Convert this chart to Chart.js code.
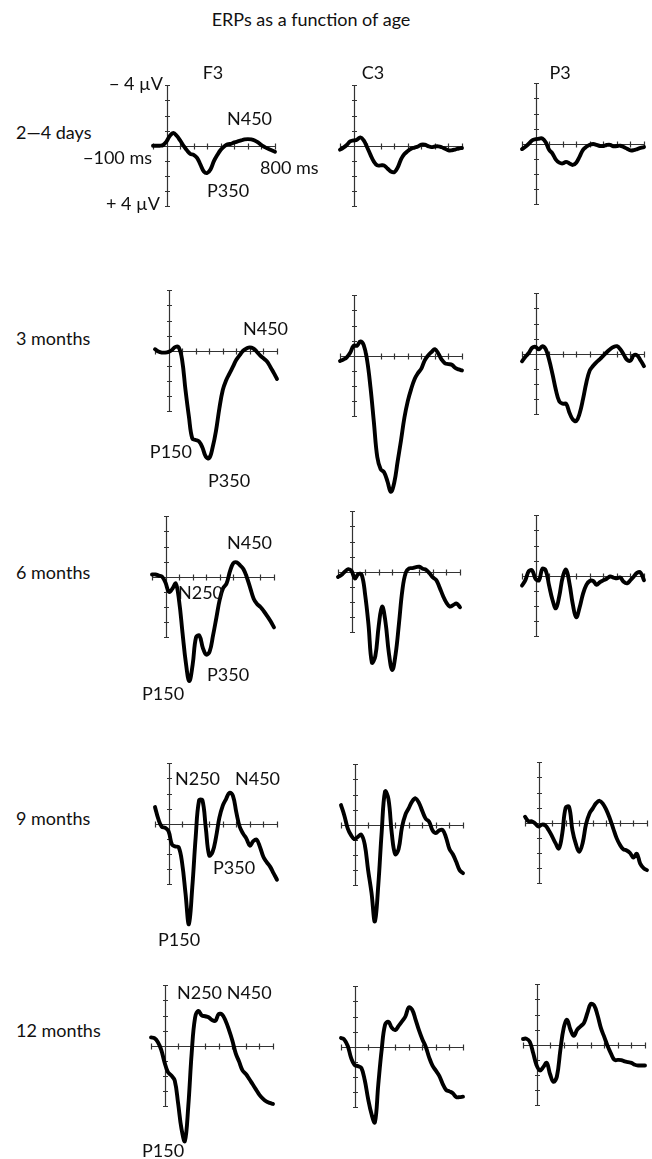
<!DOCTYPE html>
<html>
<head>
<meta charset="utf-8">
<script src="https://cdn.jsdelivr.net/npm/chart.js@4.4.1/dist/chart.umd.min.js"></script>
<style>
  html, body { margin: 0; padding: 0; background: #fff; }
  #page { position: relative; width: 652px; height: 1159px; overflow: hidden;
          font-family: Lato, "Open Sans", sans-serif; color: #111; }
  #page canvas { position: absolute; }
  .lbl { position: absolute; font-size: 18px; line-height: 1; white-space: nowrap;
         transform: translateY(-50%); }
  .lbl.r { transform: translate(-100%, -50%); }
  .lbl.c { transform: translate(-50%, -50%); }
</style>
</head>
<body>
<div id="page"></div>
<script>
// time points (ms) shared by every waveform
var times = [-100, -75, -50, -25, 0, 25, 50, 75, 100, 125, 150, 175, 200, 225, 250, 275, 300, 325,
             350, 375, 400, 425, 450, 475, 500, 525, 550, 575, 600, 625, 650, 675, 700, 725, 750, 775, 800];

// axis ticks
var xTicks = [-100, 0, 100, 200, 300, 400, 500, 600, 700, 800];
var yTicks = [-4, -3, -2, -1, 0, 1, 2, 3, 4];

var ages = ['2—4 days', '3 months', '6 months', '9 months', '12 months'];
var sites = ['F3', 'C3', 'P3'];

// amplitudes in µV (negative up)
var days_F3 = [0, 0, 0, -0.05, -0.29, -0.66, -0.84, -0.66, -0.35, 0, 0.3, 0.53, 0.6, 0.8, 1.25, 1.7, 1.8, 1.55, 1.0, 0.6, 0.26, 0.05, -0.1, -0.13, -0.22, -0.29, -0.35, -0.42, -0.44, -0.42, -0.35, -0.22, -0.04, 0.09, 0.2, 0.3, 0.4];
var days_C3 = [0.26, 0.13, -0.05, -0.29, -0.35, -0.4, -0.55, -0.35, 0.1, 0.6, 1.05, 1.3, 1.3, 1.3, 1.5, 1.7, 1.75, 1.45, 0.9, 0.55, 0.35, 0.2, 0.12, 0.05, -0.07, -0.07, 0.02, 0.09, 0.05, 0.04, 0.1, 0.2, 0.3, 0.3, 0.25, 0.18, 0.15];
var days_P3 = [0.35, 0.2, 0, -0.22, -0.3, -0.33, -0.35, -0.1, 0.4, 0.65, 1.05, 1.25, 1.3, 1.2, 1.3, 1.4, 1.25, 0.85, 0.4, 0.2, 0.07, 0.02, 0.07, 0.15, 0.15, 0.08, 0.07, 0.17, 0.15, 0.13, 0.22, 0.33, 0.44, 0.42, 0.35, 0.28, 0.22];

var m3_F3 = [-0.1, 0.05, 0.12, 0.12, 0.07, -0.05, -0.25, -0.22, 0.6, 2.6, 4.35, 5.8, 5.9, 6.0, 6.4, 7.0, 7.1, 6.4, 5.3, 3.8, 2.6, 1.95, 1.5, 1.05, 0.6, 0.29, 0, -0.15, -0.22, -0.15, 0.05, 0.3, 0.5, 0.7, 1.05, 1.45, 1.87];
var m3_C3 = [0.35, 0.25, 0.1, -0.2, -0.66, -0.66, -0.95, -0.7, 0.3, 2.1, 4.4, 6.7, 7.5, 7.7, 8.3, 9.0, 8.4, 7.0, 5.6, 4.1, 3.0, 2.2, 1.55, 1.15, 0.85, 0.3, -0.02, -0.25, -0.44, -0.15, 0.25, 0.5, 0.55, 0.6, 0.8, 0.9, 0.97];
var m3_P3 = [0.5, 0.2, -0.05, -0.4, -0.46, -0.29, -0.5, -0.3, 0.4, 1.35, 2.4, 3.15, 3.3, 3.3, 3.9, 4.35, 4.45, 3.95, 3.0, 1.9, 1.1, 0.8, 0.55, 0.35, 0.12, -0.1, -0.3, -0.45, -0.5, -0.3, 0.05, 0.4, 0.45, 0.1, 0.12, 0.45, 0.82];

var m6_F3 = [-0.15, -0.15, -0.08, 0, 0.4, 1.0, 0.8, 0.45, 1.6, 3.7, 5.7, 6.9, 5.8, 4.0, 3.9, 4.7, 5.15, 4.95, 3.9, 2.7, 1.5, 0.75, 0.45, -0.35, -0.9, -0.95, -0.75, -0.5, 0.05, 0.75, 1.45, 1.8, 2.0, 2.28, 2.6, 2.95, 3.35];
var m6_C3 = [0.35, 0.22, 0, -0.17, -0.05, 0.45, 0.15, 0.2, 1.5, 3.5, 6.0, 5.6, 3.6, 2.3, 3.3, 5.35, 6.5, 5.45, 3.4, 1.2, 0.05, -0.22, -0.24, -0.3, -0.33, -0.2, -0.13, 0.1, 0.38, 0.55, 1.05, 1.6, 2.05, 2.3, 2.2, 2.1, 2.35];
var m6_P3 = [0.65, 0.29, -0.3, -0.35, 0.2, 0.3, -0.45, -0.35, 0.65, 1.6, 2.15, 1.35, 0.1, -0.4, 0.5, 1.9, 2.75, 2.1, 1.2, 0.6, 0.35, 0.35, 0.6, 0.42, 0.3, 0.2, 0.05, 0.12, 0.17, 0.12, 0.4, 0.5, 0.29, 0.05, -0.2, -0.2, 0.3];

var m9_F3 = [-1.1, -0.3, 0.2, 0.27, 0.5, 1.37, 1.5, 1.55, 2.6, 4.6, 6.65, 4.2, 0.9, -1.55, -1.55, 0.3, 2.1, 1.85, 0.9, -0.4, -1.2, -1.65, -2.05, -1.85, -0.75, 0.2, 0.65, 1.0, 1.45, 1.15, 1.05, 1.55, 2.2, 2.55, 2.85, 3.28, 3.7];
var m9_C3 = [-1.3, -0.6, 0.25, 0.7, 0.95, 0.8, 0.66, 1.3, 3.0, 4.5, 6.4, 4.0, 0.5, -2.2, -1.7, 0.6, 1.95, 1.6, 0.15, -0.66, -1.1, -1.55, -1.75, -1.45, -0.9, -0.4, -0.2, 0.36, 0.55, 0.37, 0.35, 0.85, 1.6, 1.95, 2.45, 3.0, 3.2];
var m9_P3 = [-0.4, -0.1, -0.1, 0.05, 0.25, 0.12, 0.18, 0.5, 0.9, 1.35, 1.7, 0.7, -1.0, -1.05, 0.5, 1.4, 1.92, 1.35, 0.1, -0.6, -0.95, -1.3, -1.45, -1.25, -0.85, -0.3, 0.35, 1.0, 1.45, 1.75, 1.83, 2.0, 2.3, 2.05, 2.7, 3.0, 3.13];

var m12_F3 = [-0.55, -0.5, -0.25, 0.25, 1.1, 1.75, 1.97, 2.3, 3.8, 5.5, 6.3, 4.0, 0.5, -1.85, -2.3, -2.0, -1.95, -1.88, -1.7, -1.65, -2.1, -2.05, -1.65, -1.05, -0.35, 0.5, 1.05, 1.63, 1.87, 2.2, 2.55, 2.9, 3.25, 3.5, 3.68, 3.78, 3.85];
var m12_C3 = [-0.58, -0.47, -0.05, 0.75, 1.2, 1.28, 1.4, 2.2, 3.45, 4.45, 5.0, 2.5, 0.2, -1.45, -1.65, -1.25, -1.1, -1.38, -1.68, -2.0, -2.6, -2.45, -1.8, -1.1, -0.5, 0, 0.7, 1.25, 1.58, 1.93, 2.45, 2.85, 2.95, 3.08, 3.33, 3.33, 3.3];
var m12_P3 = [-0.38, -0.4, -0.2, 0.55, 1.35, 1.7, 1.47, 1.2, 1.95, 2.45, 2.1, 0.4, -1.1, -1.65, -1.0, -0.6, -1.0, -1.22, -1.45, -2.1, -2.7, -2.6, -1.95, -1.1, -0.5, 0.1, 0.6, 1.0, 1.0, 1.02, 1.1, 1.15, 1.2, 1.32, 1.37, 1.37, 1.37];

var waves = [
  [days_F3, days_C3, days_P3],
  [m3_F3, m3_C3, m3_P3],
  [m6_F3, m6_C3, m6_P3],
  [m9_F3, m9_C3, m9_P3],
  [m12_F3, m12_C3, m12_P3]
];

// page position of each panel: [x of -100 ms, y of 0 µV]
var origins = [
  [[153, 146], [340, 146], [522, 144]],
  [[155, 351], [340, 356], [522, 354]],
  [[152, 577], [338, 572], [522, 576]],
  [[155, 824], [341, 825], [525, 823]],
  [[151, 1046], [341, 1047], [523, 1045]]
];

var Y_MIN = -6, Y_MAX = 10;
var PX_W = 122, PX_PER_UV = 15.125, PAD = 10;

var page = document.getElementById('page');

function addLabel(text, x, y, cls) {
  var d = document.createElement('div');
  d.className = 'lbl' + (cls ? ' ' + cls : '');
  d.textContent = text;
  d.style.left = x + 'px';
  d.style.top = y + 'px';
  page.appendChild(d);
}

// axes drawn from the chart's own scales
var erpAxes = {
  id: 'erpAxes',
  beforeDatasetsDraw: function (chart) {
    var c = chart.ctx, xs = chart.scales.x, ys = chart.scales.y;
    var x0 = Math.round(xs.getPixelForValue(0)) + 0.5;
    var y0 = Math.round(ys.getPixelForValue(0)) + 0.5;
    c.save();
    c.strokeStyle = '#333';
    c.lineWidth = 1.2;
    c.beginPath();
    c.moveTo(xs.getPixelForValue(xTicks[0]), y0);
    c.lineTo(xs.getPixelForValue(xTicks[xTicks.length - 1]), y0);
    c.moveTo(x0, ys.getPixelForValue(yTicks[0]));
    c.lineTo(x0, ys.getPixelForValue(yTicks[yTicks.length - 1]));
    xTicks.forEach(function (t) {
      var px = Math.round(xs.getPixelForValue(t)) + 0.5;
      c.moveTo(px, y0 - 3);
      c.lineTo(px, y0 + 3);
    });
    yTicks.forEach(function (v) {
      var py = Math.round(ys.getPixelForValue(v)) + 0.5;
      c.moveTo(x0 - 2.5, py);
      c.lineTo(x0 + 2.5, py);
    });
    c.stroke();
    c.restore();
  }
};

for (var r = 0; r < waves.length; r++) {
  for (var s = 0; s < 3; s++) {
    var vals = waves[r][s];
    var o = origins[r][s];
    var cv = document.createElement('canvas');
    cv.width = PX_W + 2 * PAD;
    cv.height = Math.round((Y_MAX - Y_MIN) * PX_PER_UV) + 2 * PAD;
    cv.style.left = (o[0] - PAD) + 'px';
    cv.style.top = Math.round(o[1] + Y_MIN * PX_PER_UV - PAD) + 'px';
    page.appendChild(cv);

    new Chart(cv.getContext('2d'), {
      type: 'line',
      data: {
        datasets: [{
          data: times.map(function (t, i) { return { x: t, y: vals[i] }; }),
          borderColor: '#000',
          borderWidth: 3.9,
          borderCapStyle: 'round',
          borderJoinStyle: 'round',
          pointRadius: 0,
          tension: 0.4,
          fill: false,
          clip: false
        }]
      },
      options: {
        responsive: false,
        animation: false,
        events: [],
        layout: { padding: PAD },
        plugins: { legend: { display: false }, tooltip: { enabled: false } },
        scales: {
          x: { type: 'linear', min: -100, max: 800, display: false },
          y: { type: 'linear', min: Y_MIN, max: Y_MAX, reverse: true, display: false }
        }
      },
      plugins: [erpAxes]
    });
  }
}

// titles and row names
addLabel('ERPs as a function of age', 311, 19, 'c');
addLabel(sites[0], 213, 72, 'c');
addLabel(sites[1], 373, 72, 'c');
addLabel(sites[2], 560, 72, 'c');
addLabel(ages[0], 16, 132);
addLabel(ages[1], 16, 338);
addLabel(ages[2], 16, 572);
addLabel(ages[3], 16, 818);
addLabel(ages[4], 16, 1030);

// axis annotations on the first panel
addLabel('− 4 µV', 163, 83, 'r');
addLabel('+ 4 µV', 160, 203, 'r');
addLabel('−100 ms', 152, 157, 'r');
addLabel('800 ms', 260, 167);

// component labels
addLabel('N450', 227, 118);
addLabel('P350', 207, 190);

addLabel('N450', 243, 328);
addLabel('P150', 192, 451, 'r');
addLabel('P350', 208, 480);

addLabel('N450', 227, 542);
addLabel('N250', 178, 592);
addLabel('P350', 207, 674);
addLabel('P150', 142, 693);

addLabel('N250', 175, 778);
addLabel('N450', 235, 778);
addLabel('P350', 213, 867);
addLabel('P150', 158, 939);

addLabel('N250 N450', 177, 992);
addLabel('P150', 142, 1150);
</script>
</body>
</html>
